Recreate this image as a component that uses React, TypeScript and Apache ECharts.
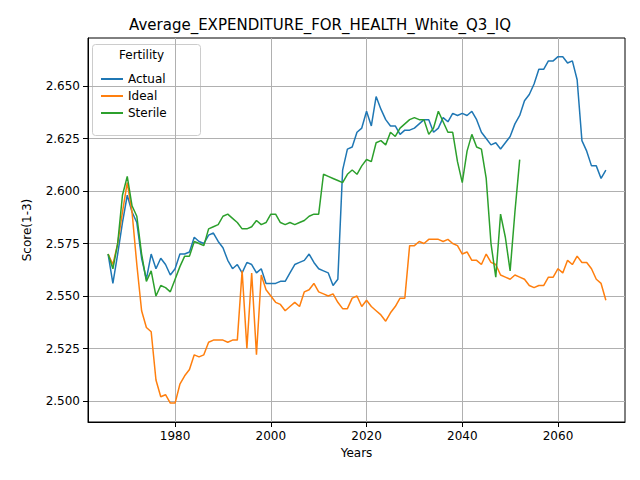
import React, { useEffect, useRef } from "react";
import * as echarts from "echarts";

const actual = [
  2.570, 2.556, 2.570, 2.585, 2.598, 2.590, 2.585, 2.568, 2.558, 2.570, 2.563, 2.568, 2.565, 2.560, 2.563,
  2.570, 2.570, 2.571, 2.578, 2.576, 2.575, 2.579, 2.580, 2.576, 2.573, 2.567, 2.563, 2.565, 2.561, 2.566,
  2.565, 2.561, 2.563, 2.556, 2.556, 2.556, 2.557, 2.557, 2.561, 2.565, 2.566, 2.567, 2.570, 2.566, 2.563,
  2.562, 2.561, 2.555, 2.558, 2.610, 2.620, 2.621, 2.628, 2.630, 2.638, 2.631, 2.645, 2.639, 2.634, 2.631,
  2.631, 2.627, 2.629, 2.629, 2.630, 2.632, 2.634, 2.634, 2.628, 2.630, 2.635, 2.633, 2.637, 2.636, 2.637,
  2.636, 2.638, 2.634, 2.628, 2.625, 2.622, 2.623, 2.620, 2.623, 2.626, 2.632, 2.636, 2.643, 2.646, 2.651,
  2.658, 2.658, 2.662, 2.662, 2.664, 2.664, 2.661, 2.662, 2.653, 2.624, 2.619, 2.612, 2.612, 2.606, 2.610,
];

const ideal = [
  2.570, 2.565, 2.575, 2.590, 2.604, 2.590, 2.565, 2.543, 2.535, 2.533, 2.510, 2.502, 2.503, 2.499, 2.499,
  2.508, 2.512, 2.515, 2.522, 2.521, 2.522, 2.528, 2.529, 2.529, 2.529, 2.528, 2.529, 2.529, 2.562, 2.525,
  2.561, 2.522, 2.560, 2.553, 2.550, 2.547, 2.546, 2.543, 2.545, 2.547, 2.545, 2.552, 2.553, 2.556, 2.552,
  2.551, 2.550, 2.551, 2.547, 2.544, 2.544, 2.549, 2.550, 2.545, 2.548, 2.545, 2.543, 2.541, 2.538, 2.542,
  2.545, 2.549, 2.549, 2.574, 2.574, 2.576, 2.575, 2.577, 2.577, 2.577, 2.576, 2.577, 2.575, 2.574, 2.570,
  2.571, 2.567, 2.567, 2.565, 2.570, 2.566, 2.565, 2.560, 2.559, 2.558, 2.560, 2.559, 2.558, 2.555, 2.554,
  2.555, 2.555, 2.559, 2.559, 2.563, 2.561, 2.567, 2.565, 2.569, 2.566, 2.566, 2.563, 2.558, 2.556, 2.548,
];

const sterile = [
  2.570, 2.563, 2.575, 2.598, 2.607, 2.593, 2.588, 2.570, 2.557, 2.562, 2.550, 2.555, 2.554, 2.552, 2.558,
  2.564, 2.569, 2.569, 2.576, 2.575, 2.574, 2.582, 2.583, 2.584, 2.588, 2.589, 2.587, 2.585, 2.582, 2.582,
  2.583, 2.586, 2.584, 2.585, 2.589, 2.589, 2.585, 2.584, 2.585, 2.584, 2.585, 2.586, 2.588, 2.589, 2.589,
  2.608, 2.607, 2.606, 2.605, 2.604, 2.608, 2.610, 2.608, 2.612, 2.615, 2.614, 2.623, 2.624, 2.622, 2.628,
  2.626, 2.630, 2.632, 2.634, 2.635, 2.634, 2.634, 2.627, 2.630, 2.638, 2.633, 2.628, 2.628, 2.614, 2.604,
  2.619, 2.627, 2.621, 2.620, 2.606, 2.575, 2.559, 2.589, 2.578, 2.562, 2.590, 2.615,
];

const startYear = 1966;
const xTicks = [1980, 2000, 2020, 2040, 2060];
const yTicks = [2.5, 2.525, 2.55, 2.575, 2.6, 2.625, 2.65];

const toPairs = (vals: number[]) => vals.map((v, i) => [startYear + i, v]);

const App: React.FC = () => {
  const chartRef = useRef<HTMLDivElement>(null);

  useEffect(() => {
    if (!chartRef.current) return;
    const chart = echarts.init(chartRef.current, null, { renderer: "svg" });
    const font = "DejaVu Sans";
    const mk = (name: string, color: string, vals: number[]) => ({
      name,
      type: "line",
      data: toPairs(vals),
      showSymbol: false,
      lineStyle: { color, width: 1.5 },
      itemStyle: { color },
    });
    chart.setOption({
      animation: false,
      textStyle: { fontFamily: font },
      title: {
        text: "Average_EXPENDITURE_FOR_HEALTH_White_Q3_IQ",
        left: "center",
        top: 12,
        textStyle: { fontFamily: font, fontSize: 15, fontWeight: "normal", color: "#000" },
      },
      grid: { left: 88, right: 15, top: 38, bottom: 58, show: true, borderColor: "#000", borderWidth: 1 },
      xAxis: {
        type: "value",
        min: 1961.8,
        max: 2074,
        name: "Years",
        nameLocation: "middle",
        nameGap: 22,
        nameTextStyle: { fontSize: 12, color: "#000" },
        axisLine: { onZero: false, lineStyle: { color: "#000" } },
        axisTick: { show: true, customValues: xTicks, lineStyle: { color: "#000" } },
        axisLabel: { customValues: xTicks, color: "#000", fontSize: 12, formatter: (v: number) => String(v) },
        splitLine: { show: true, lineStyle: { color: "#b0b0b0", width: 1 } },
      },
      yAxis: {
        type: "value",
        min: 2.49,
        max: 2.6729,
        name: "Score(1-3)",
        nameLocation: "middle",
        nameGap: 55,
        nameTextStyle: { fontSize: 12, color: "#000" },
        axisLine: { show: true, lineStyle: { color: "#000" } },
        axisTick: { show: true, customValues: yTicks, lineStyle: { color: "#000" } },
        axisLabel: { customValues: yTicks, color: "#000", fontSize: 12, formatter: (v: number) => v.toFixed(3) },
        splitLine: { show: true, lineStyle: { color: "#b0b0b0", width: 1 } },
      },
      legend: {
        left: 96,
        top: 68,
        orient: "vertical",
        itemGap: 5,
        itemWidth: 22,
        itemHeight: 2,
        icon: "rect",
        textStyle: { fontSize: 12, color: "#000" },
        data: ["Actual", "Ideal", "Sterile"],
      },
      graphic: [
        {
          type: "rect",
          left: 92,
          top: 44,
          shape: { width: 108, height: 91, r: 3 },
          style: { fill: "rgba(255,255,255,0.8)", stroke: "#ccc", lineWidth: 1 },
          z: 0,
        },
        {
          type: "text",
          left: 119,
          top: 49,
          style: { text: "Fertility", fontSize: 12, fontFamily: font, fill: "#000" },
        },
      ],
      series: [
        mk("Actual", "#1f77b4", actual),
        mk("Ideal", "#ff7f0e", ideal),
        mk("Sterile", "#2ca02c", sterile),
      ],
    });
    return () => chart.dispose();
  }, []);

  return <div ref={chartRef} style={{ width: 640, height: 480, margin: -8 }} />;
};

export default App;
